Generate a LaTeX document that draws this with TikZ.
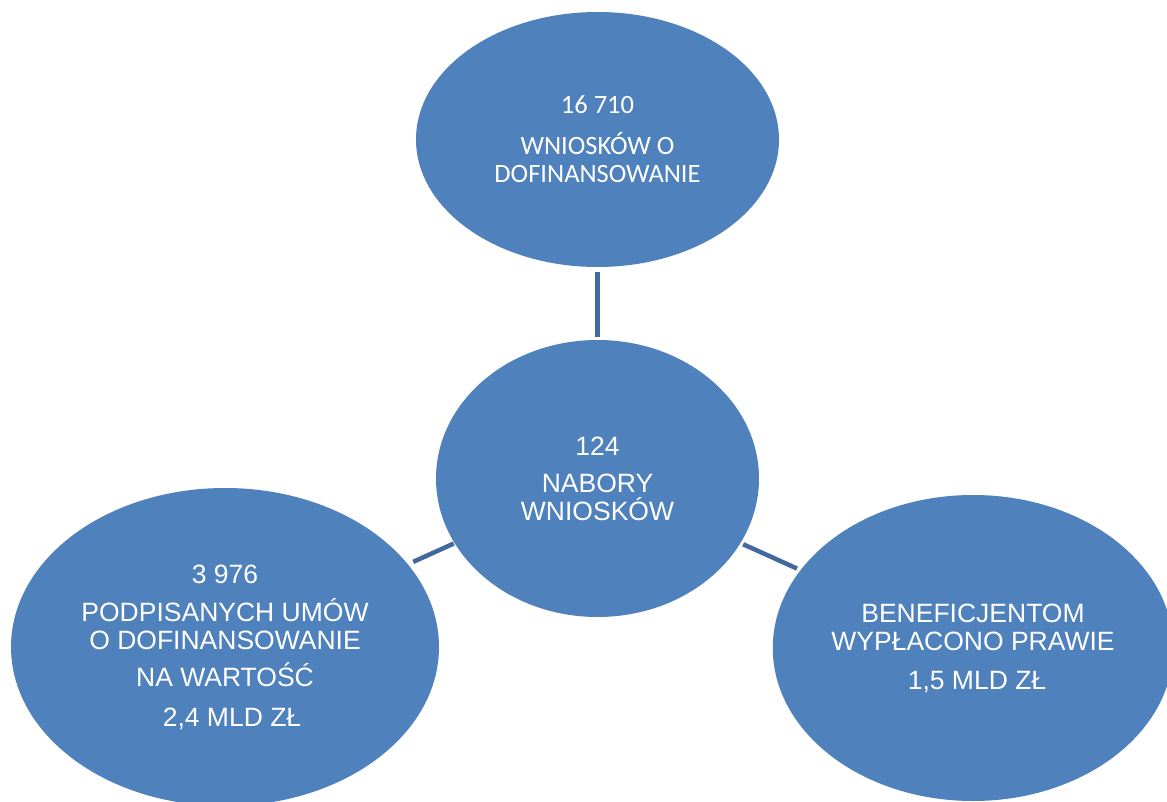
\documentclass[tikz,border=0pt]{standalone}
\usepackage{fontspec}
\setmainfont{Liberation Sans}
\newfontfamily\calibrifont{Carlito}
\usetikzlibrary{shapes.geometric}
\definecolor{bubbleblue}{HTML}{4F81BD}
\definecolor{linkblue}{HTML}{41699C}

\begin{document}
\begin{tikzpicture}[x=1pt,y=-1pt,
    bubble/.style={ellipse,fill=bubbleblue,text=white,inner sep=0pt,outer sep=0pt,
      align=center,font=\fontsize{26.5}{28}\selectfont},
    link/.style={draw=linkblue,line width=4.5pt}]
      \clip (0,0) rectangle (1167,802);

      % the four bubbles
      \node[bubble,minimum width=363pt,minimum height=255pt] (wnioski) at (597.5,139.5)
        {\calibrifont 16 710\\[13pt]\calibrifont WNIOSKÓW O\\\calibrifont DOFINANSOWANIE};
      \node[bubble,minimum width=323pt,minimum height=277pt] (nabory) at (597.5,478.5)
        {124\\[9pt]NABORY\\WNIOSKÓW};
      \node[bubble,minimum width=428pt,minimum height=318pt] (umowy) at (225,647)
        {3 976\\[10pt]PODPISANYCH UMÓW\\O DOFINANSOWANIE\\[9pt]NA WARTOŚĆ\\[12pt]\hspace*{14pt}2,4 MLD ZŁ};
      \node[bubble,minimum width=400pt,minimum height=306pt] (wyplaty) at (973,648)
        {BENEFICJENTOM\\WYPŁACONO PRAWIE\\[11pt]\hspace*{8pt}1,5 MLD ZŁ};

      % spokes
      \draw[link,shorten <=5pt,shorten >=3pt] (wnioski) -- (nabory);
      \draw[link,shorten <=6pt,shorten >=1pt] (umowy) -- (nabory);
      \draw[link,shorten <=3pt,shorten >=4pt] (nabory) -- (wyplaty);
    \end{tikzpicture}
\end{document}
